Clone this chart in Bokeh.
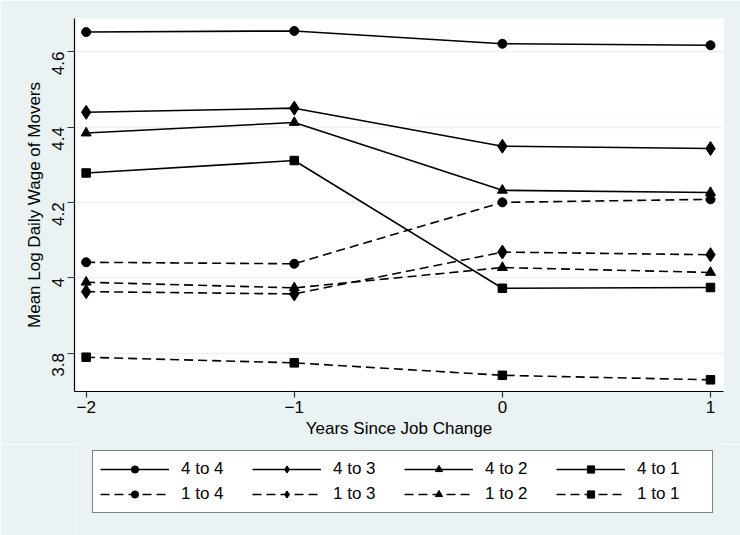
import math
from bokeh.plotting import figure
from bokeh.layouts import column
from bokeh.models import Legend, LegendItem, FixedTicker, Range1d
from bokeh.embed import file_html
from bokeh.resources import INLINE

years = [-2, -1, 0, 1]
series_names = ["4 to 4", "4 to 3", "4 to 2", "4 to 1", "1 to 4", "1 to 3", "1 to 2", "1 to 1"]
w_4to4 = [4.652, 4.655, 4.621, 4.617]
w_4to3 = [4.439, 4.450, 4.349, 4.343]
w_4to2 = [4.384, 4.412, 4.232, 4.226]
w_4to1 = [4.278, 4.311, 3.972, 3.974]
w_1to4 = [4.041, 4.037, 4.200, 4.208]
w_1to3 = [3.963, 3.957, 4.068, 4.061]
w_1to2 = [3.988, 3.973, 4.027, 4.014]
w_1to1 = [3.789, 3.774, 3.741, 3.729]
y_ticks = [3.8, 4.0, 4.2, 4.4, 4.6]
y_tick_labels = {3.8: "3.8", 4.0: "4", 4.2: "4.2", 4.4: "4.4", 4.6: "4.6"}
x_tick_labels = {-2: "\u22122", -1: "\u22121", 0: "0", 1: "1"}

BG = "#EAF2F3"
FONT = "Liberation Sans"

p = figure(width=740, height=444, output_backend="svg", toolbar_location=None,
           x_range=Range1d(-2.056, 1.0625), y_range=Range1d(3.698, 4.688),
           background_fill_color="white", border_fill_color=BG,
           min_border_left=74, min_border_right=17, min_border_top=18, min_border_bottom=53)
p.outline_line_color = None

p.xgrid.grid_line_color = None
p.ygrid.grid_line_color = BG
p.ygrid.grid_line_width = 1.5

p.xaxis.ticker = FixedTicker(ticks=years)
p.xaxis.major_label_overrides = x_tick_labels
p.yaxis.ticker = FixedTicker(ticks=y_ticks)
p.yaxis.major_label_overrides = y_tick_labels
p.yaxis.major_label_orientation = math.pi / 2
p.xaxis.axis_label = "Years Since Job Change"
p.yaxis.axis_label = "Mean Log Daily Wage of Movers"

for ax in (p.xaxis[0], p.yaxis[0]):
    ax.axis_line_color = "black"
    ax.axis_line_width = 1.2
    ax.major_tick_line_color = "#333333"
    ax.major_tick_line_width = 1.2
    ax.minor_tick_line_color = None
    ax.major_tick_in = 0
    ax.major_label_text_font = FONT
    ax.major_label_text_font_size = "17px"
    ax.major_label_text_color = "black"
    ax.axis_label_text_font = FONT
    ax.axis_label_text_font_size = "17px"
    ax.axis_label_text_font_style = "normal"
    ax.axis_label_text_color = "black"
p.xaxis.major_tick_out = 6
p.yaxis.major_tick_out = 7
p.xaxis.major_label_standoff = 3
p.yaxis.major_label_standoff = 9
p.xaxis.axis_label_standoff = 3
p.yaxis.axis_label_standoff = 0

series = [w_4to4, w_4to3, w_4to2, w_4to1, w_1to4, w_1to3, w_1to2, w_1to1]
markers = ["circle", "diamond", "triangle", "square"] * 2
sizes = [9, 14, 10, 8.5] * 2
dashes = ["solid"] * 4 + ["9 5"] * 4

# legend lives in its own strip below the chart (same series, off-view there)
pl = figure(width=740, height=91, output_backend="svg", toolbar_location=None,
            x_range=Range1d(100, 101), y_range=Range1d(100, 101),
            x_axis_location=None, y_axis_location=None,
            background_fill_color=BG, border_fill_color=BG, min_border=0)
pl.outline_line_color = None
pl.grid.visible = False

items = []
for name, vals, mk, sz, dash in zip(series_names, series, markers, sizes, dashes):
    p.line(years, vals, line_color="black", line_width=1.6, line_dash=dash)
    p.scatter(years, vals, marker=mk, size=sz, fill_color="black", line_color="black")
    lr = pl.line(years, vals, line_color="black", line_width=1.6, line_dash=dash)
    sr = pl.scatter(years, vals, marker=mk, size=sz, fill_color="black", line_color="black")
    items.append(LegendItem(label=name, renderers=[lr, sr]))

legend = Legend(items=items, orientation="horizontal", ncols=4,
                location=(18, 22),
                label_text_font=FONT, label_text_font_size="17px",
                label_text_color="black",
                glyph_width=69, glyph_height=18, label_height=22, label_width=68,
                label_standoff=12, spacing=3,
                padding=7, margin=0,
                border_line_color="black", border_line_width=1.2,
                background_fill_color="white", background_fill_alpha=1.0)
pl.add_layout(legend, "center")

layout = column(p, pl, spacing=0)
open("out.html", "w").write(file_html(layout, INLINE))
